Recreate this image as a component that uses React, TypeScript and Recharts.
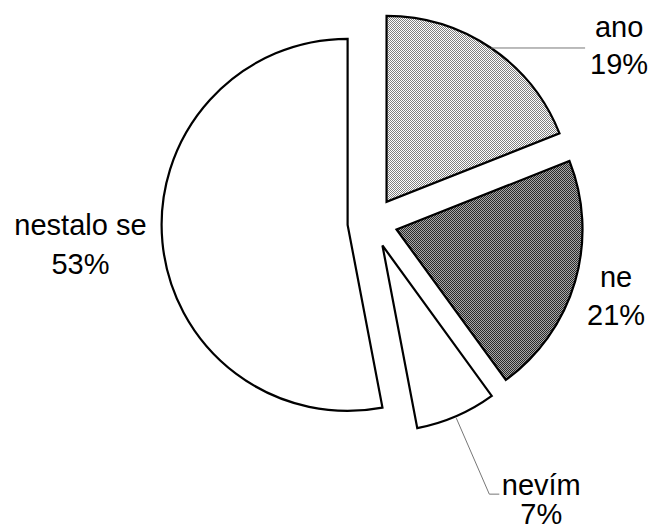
import React from "react";
import { PieChart, Pie, Cell } from "recharts";

// data
const categories = ["ano", "ne", "nevím", "nestalo se"];
const values = [19, 21, 7, 53];
const percentLabels = ["19%", "21%", "7%", "53%"];

const fills = ["url(#patLight)", "url(#patDark)", "#ffffff", "#ffffff"];

const W = 654;
const H = 529;
const CX = 372.5;
const CY = 222.5;
const R = 186;
const EXPLODE = 25;
const RAD = Math.PI / 180;

const data = categories.map((name, i) => ({ name, value: values[i] }));
const total = values.reduce((a, b) => a + b, 0);

// mid angle of each slice, clockwise from 12 o'clock
const midAngles: number[] = [];
let acc = 0;
values.forEach((v) => {
    const span = (v / total) * 360;
    midAngles.push(acc + span / 2);
    acc += span;
});

// offsets of the label text from the middle of the slice's arc
const labelLayout = [
    { dx: 128, y1: -11, y2: 26, line: "ano" },
    { dx: 41, y1: 6, y2: 44, line: "none" },
    { dx: 85, y1: 79, y2: 108, line: "nevim" },
    { dx: -82, y1: -7, y2: 32, line: "none" },
];

const FONT = "'Liberation Sans', Arial, Helvetica, sans-serif";

function makeLabel(k: number) {
    return (props: any) => {
        if (props.index !== k) return null;
        const { cx, cy, midAngle, outerRadius } = props;
        const ax = cx + outerRadius * Math.cos(-midAngle * RAD);
        const ay = cy + outerRadius * Math.sin(-midAngle * RAD);
        const l = labelLayout[k];
        let line = null;
        if (l.line === "ano") {
            line = (
                <line x1={ax} y1={ay} x2={ax + 94} y2={ay} stroke="#777" strokeWidth={1} />
            );
        } else if (l.line === "nevim") {
            line = (
                <polyline
                    points={`${ax},${ay + 2} ${ax + 33},${ay + 78} ${ax + 43},${ay + 78}`}
                    fill="none"
                    stroke="#777"
                    strokeWidth={1}
                />
            );
        }
        return (
            <g>
                {line}
                <text
                    x={ax + l.dx}
                    y={ay + l.y1}
                    textAnchor="middle"
                    fontFamily={FONT}
                    fontSize={29}
                    fill="#000"
                >
                    {categories[k]}
                </text>
                <text
                    x={ax + l.dx}
                    y={ay + l.y2}
                    textAnchor="middle"
                    fontFamily={FONT}
                    fontSize={29}
                    fill="#000"
                >
                    {percentLabels[k]}
                </text>
            </g>
        );
    };
}

export default function App() {
    return (
        <div style={{ position: "absolute", left: 0, top: 0, width: W, height: H, background: "#fff" }}>
            <PieChart width={W} height={H} margin={{ top: 0, right: 0, bottom: 0, left: 0 }}>
                <defs>
                    <pattern id="patLight" width={2} height={2} patternUnits="userSpaceOnUse">
                        <rect width={2} height={2} fill="#ffffff" />
                        <rect width={1} height={1} fill="#808080" />
                        <rect x={1} y={1} width={1} height={1} fill="#808080" />
                    </pattern>
                    <pattern id="patDark" width={2} height={2} patternUnits="userSpaceOnUse">
                        <rect width={2} height={2} fill="#a8a8a8" />
                        <rect width={1} height={1} fill="#2a2a2a" />
                        <rect x={1} y={1} width={1} height={1} fill="#2a2a2a" />
                    </pattern>
                </defs>
                {/* one Pie per slice so every slice can be pulled out along its mid angle */}
                {categories.map((c, k) => {
                    const a = midAngles[k] * RAD;
                    const pcx = CX + EXPLODE * Math.sin(a);
                    const pcy = CY - EXPLODE * Math.cos(a);
                    return (
                        <Pie
                            key={c}
                            data={data}
                            dataKey="value"
                            nameKey="name"
                            cx={pcx}
                            cy={pcy}
                            outerRadius={R}
                            innerRadius={0}
                            startAngle={90}
                            endAngle={-270}
                            isAnimationActive={false}
                            labelLine={false}
                            label={makeLabel(k)}
                        >
                            {data.map((d, i) => (
                                <Cell
                                    key={d.name}
                                    fill={i === k ? fills[i] : "none"}
                                    stroke={i === k ? "#000" : "none"}
                                    strokeWidth={2.2}
                                />
                            ))}
                        </Pie>
                    );
                })}
            </PieChart>
        </div>
    );
}
